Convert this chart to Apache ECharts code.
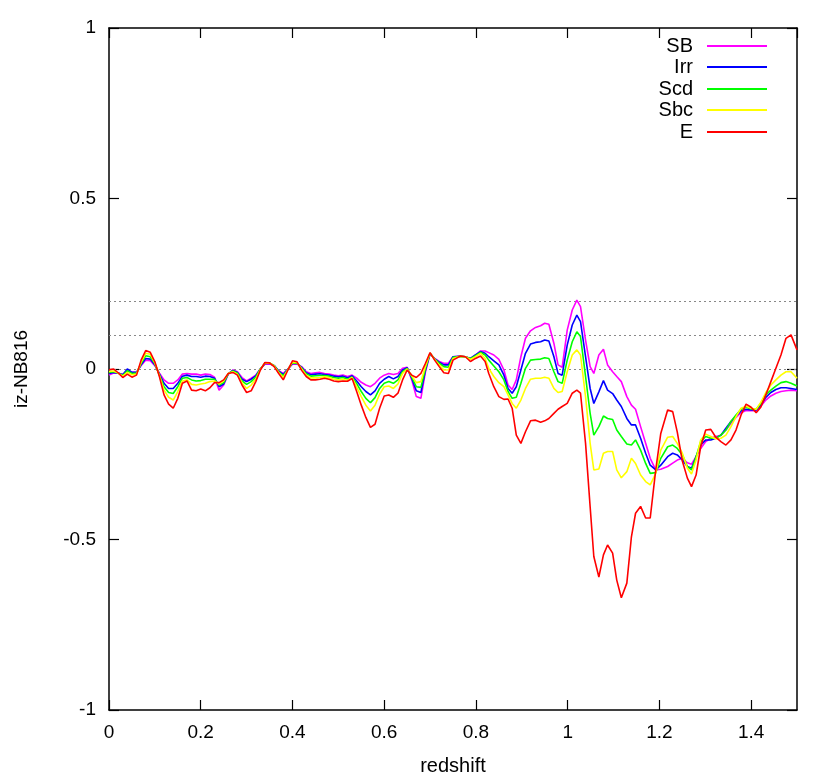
<!DOCTYPE html>
<html>
<head>
<meta charset="utf-8">
<script src="https://cdn.jsdelivr.net/npm/echarts@6/dist/echarts.min.js"></script>
<style>
  html, body { margin: 0; padding: 0; background: #fff; }
  #main { width: 830px; height: 775px; }
</style>
</head>
<body>
<div id="main"></div>
<script>
// redshift sampling
var redshift = [
  0.00, 0.01, 0.02, 0.03, 0.04, 0.05, 0.06, 0.07, 0.08, 0.09,
  0.10, 0.11, 0.12, 0.13, 0.14, 0.15, 0.16, 0.17, 0.18, 0.19,
  0.20, 0.21, 0.22, 0.23, 0.24, 0.25, 0.26, 0.27, 0.28, 0.29,
  0.30, 0.31, 0.32, 0.33, 0.34, 0.35, 0.36, 0.37, 0.38, 0.39,
  0.40, 0.41, 0.42, 0.43, 0.44, 0.45, 0.46, 0.47, 0.48, 0.49,
  0.50, 0.51, 0.52, 0.53, 0.54, 0.55, 0.56, 0.57, 0.58, 0.59,
  0.60, 0.61, 0.62, 0.63, 0.64, 0.65, 0.66, 0.67, 0.68, 0.69,
  0.70, 0.71, 0.72, 0.73, 0.74, 0.75,
  0.766, 0.777, 0.788, 0.799, 0.810, 0.820, 0.828, 0.839, 0.850, 0.861,
  0.870, 0.879, 0.888, 0.898, 0.908, 0.919, 0.930, 0.941, 0.950, 0.959,
  0.970, 0.979, 0.988,
  0.999, 1.010, 1.020, 1.028, 1.039, 1.049, 1.057, 1.068, 1.078, 1.087,
  1.098, 1.107, 1.117, 1.129, 1.139, 1.148, 1.159, 1.170, 1.180, 1.192,
  1.203, 1.218, 1.229, 1.239, 1.250, 1.261, 1.270, 1.280, 1.290, 1.301,
  1.312, 1.323, 1.334, 1.345, 1.356, 1.367, 1.378, 1.389, 1.400, 1.411,
  1.421, 1.432, 1.443, 1.454, 1.465, 1.476, 1.487, 1.500
];

var sb = [
  -0.018, -0.012, -0.012, -0.016, -0.005, -0.010, -0.010, 0.010, 0.026, 0.024,
  0.010, -0.012, -0.032, -0.042, -0.042, -0.032, -0.015, -0.013, -0.015, -0.015,
  -0.018, -0.015, -0.016, -0.024, -0.062, -0.047, -0.015, -0.003, -0.008, -0.025,
  -0.035, -0.027, -0.018, 0.000, 0.014, 0.015, 0.010, -0.005, -0.013, 0.000,
  0.014, 0.015, 0.007, -0.008, -0.013, -0.011, -0.010, -0.013, -0.015, -0.018,
  -0.020, -0.018, -0.022, -0.018, -0.027, -0.039, -0.047, -0.052, -0.042, -0.027,
  -0.018, -0.013, -0.016, -0.013, 0.002, 0.005, -0.032, -0.081, -0.086, -0.008,
  0.044, 0.031, 0.022, 0.017, 0.017, 0.036,
  0.038, 0.036, 0.031, 0.041, 0.053, 0.053, 0.048, 0.041, 0.028, -0.003,
  -0.047, -0.060, -0.032, 0.036, 0.090, 0.112, 0.122, 0.127, 0.134, 0.131,
  0.075, 0.012, 0.005,
  0.114, 0.173, 0.202, 0.183, 0.085, 0.007, -0.013, 0.041, 0.058, 0.012,
  -0.008, -0.022, -0.037, -0.081, -0.106, -0.118, -0.169, -0.218, -0.262, -0.296,
  -0.294, -0.286, -0.276, -0.267, -0.262, -0.275, -0.279, -0.257, -0.233, -0.213,
  -0.203, -0.198, -0.194, -0.179, -0.159, -0.142, -0.128, -0.122, -0.122, -0.122,
  -0.109, -0.091, -0.079, -0.071, -0.066, -0.064, -0.062, -0.064
];

var irr = [
  -0.013, -0.010, -0.012, -0.017, 0.000, -0.010, -0.010, 0.012, 0.031, 0.029,
  0.012, -0.015, -0.042, -0.057, -0.057, -0.042, -0.021, -0.018, -0.022, -0.022,
  -0.024, -0.021, -0.022, -0.027, -0.052, -0.044, -0.014, -0.004, -0.010, -0.030,
  -0.037, -0.030, -0.020, 0.000, 0.016, 0.017, 0.010, -0.006, -0.016, 0.000,
  0.016, 0.016, 0.005, -0.011, -0.017, -0.015, -0.014, -0.016, -0.018, -0.021,
  -0.023, -0.021, -0.026, -0.020, -0.035, -0.052, -0.066, -0.076, -0.064, -0.042,
  -0.030, -0.022, -0.029, -0.022, -0.003, 0.004, -0.027, -0.064, -0.069, -0.003,
  0.045, 0.030, 0.020, 0.012, 0.012, 0.036,
  0.037, 0.036, 0.031, 0.041, 0.051, 0.046, 0.036, 0.024, 0.012, -0.018,
  -0.057, -0.071, -0.052, -0.003, 0.046, 0.073, 0.078, 0.080, 0.085, 0.082,
  0.036, -0.013, -0.018,
  0.070, 0.129, 0.158, 0.139, 0.036, -0.057, -0.101, -0.067, -0.034, -0.062,
  -0.072, -0.091, -0.110, -0.145, -0.164, -0.164, -0.203, -0.247, -0.282, -0.296,
  -0.282, -0.257, -0.247, -0.252, -0.267, -0.286, -0.291, -0.257, -0.223, -0.208,
  -0.208, -0.203, -0.194, -0.174, -0.154, -0.138, -0.123, -0.118, -0.120, -0.120,
  -0.106, -0.083, -0.069, -0.060, -0.055, -0.055, -0.057, -0.060
];

var scd = [
  -0.010, -0.008, -0.012, -0.019, -0.005, -0.013, -0.012, 0.016, 0.039, 0.036,
  0.015, -0.018, -0.052, -0.069, -0.072, -0.052, -0.027, -0.025, -0.032, -0.035,
  -0.034, -0.030, -0.030, -0.030, -0.047, -0.040, -0.014, -0.006, -0.012, -0.035,
  -0.045, -0.037, -0.024, 0.000, 0.017, 0.018, 0.010, -0.008, -0.020, -0.001,
  0.018, 0.017, 0.003, -0.014, -0.021, -0.020, -0.019, -0.019, -0.021, -0.025,
  -0.027, -0.025, -0.030, -0.023, -0.043, -0.066, -0.086, -0.099, -0.084, -0.057,
  -0.042, -0.037, -0.042, -0.032, -0.008, 0.002, -0.023, -0.052, -0.054, 0.002,
  0.046, 0.029, 0.017, 0.007, 0.005, 0.034,
  0.037, 0.036, 0.030, 0.039, 0.049, 0.041, 0.026, 0.009, -0.008, -0.032,
  -0.066, -0.086, -0.083, -0.042, 0.002, 0.026, 0.028, 0.029, 0.033, 0.031,
  -0.008, -0.037, -0.042,
  0.026, 0.080, 0.109, 0.095, -0.022, -0.130, -0.194, -0.169, -0.138, -0.145,
  -0.148, -0.179, -0.198, -0.220, -0.223, -0.208, -0.238, -0.277, -0.306, -0.304,
  -0.262, -0.228, -0.223, -0.233, -0.252, -0.286, -0.296, -0.257, -0.213, -0.198,
  -0.203, -0.203, -0.194, -0.179, -0.154, -0.135, -0.118, -0.112, -0.117, -0.118,
  -0.101, -0.076, -0.062, -0.050, -0.040, -0.037, -0.042, -0.050
];

var sbc = [
  -0.007, -0.006, -0.012, -0.021, -0.010, -0.017, -0.015, 0.020, 0.046, 0.043,
  0.018, -0.020, -0.062, -0.083, -0.091, -0.066, -0.035, -0.032, -0.045, -0.047,
  -0.044, -0.042, -0.037, -0.035, -0.044, -0.035, -0.013, -0.008, -0.015, -0.040,
  -0.057, -0.047, -0.030, -0.001, 0.018, 0.018, 0.009, -0.010, -0.025, -0.002,
  0.020, 0.019, 0.000, -0.018, -0.026, -0.026, -0.025, -0.023, -0.025, -0.030,
  -0.032, -0.030, -0.033, -0.025, -0.053, -0.081, -0.106, -0.123, -0.106, -0.074,
  -0.052, -0.050, -0.057, -0.044, -0.013, 0.000, -0.020, -0.040, -0.037, 0.008,
  0.047, 0.028, 0.012, -0.003, -0.002, 0.031,
  0.037, 0.036, 0.028, 0.036, 0.046, 0.031, 0.002, -0.022, -0.040, -0.052,
  -0.076, -0.101, -0.115, -0.091, -0.057, -0.030, -0.027, -0.027, -0.024, -0.027,
  -0.057, -0.069, -0.066,
  -0.008, 0.041, 0.056, 0.041, -0.081, -0.218, -0.296, -0.293, -0.247, -0.242,
  -0.242, -0.296, -0.319, -0.301, -0.262, -0.277, -0.311, -0.330, -0.340, -0.306,
  -0.238, -0.200, -0.198, -0.218, -0.247, -0.291, -0.308, -0.267, -0.208, -0.191,
  -0.198, -0.205, -0.203, -0.194, -0.169, -0.140, -0.115, -0.109, -0.115, -0.118,
  -0.098, -0.069, -0.047, -0.032, -0.018, -0.008, -0.008, -0.027
];

var e = [
  -0.002, 0.000, -0.011, -0.025, -0.015, -0.024, -0.018, 0.026, 0.054, 0.049,
  0.021, -0.023, -0.076, -0.103, -0.115, -0.086, -0.042, -0.035, -0.062, -0.064,
  -0.059, -0.064, -0.055, -0.040, -0.040, -0.032, -0.013, -0.010, -0.018, -0.047,
  -0.069, -0.064, -0.037, -0.003, 0.019, 0.018, 0.007, -0.013, -0.032, -0.003,
  0.024, 0.021, -0.004, -0.022, -0.032, -0.032, -0.030, -0.027, -0.030, -0.035,
  -0.037, -0.035, -0.036, -0.028, -0.066, -0.106, -0.142, -0.171, -0.162, -0.115,
  -0.079, -0.076, -0.083, -0.071, -0.032, -0.003, -0.018, -0.025, -0.013, 0.017,
  0.048, 0.026, 0.007, -0.011, -0.013, 0.026,
  0.038, 0.036, 0.022, 0.031, 0.038, 0.022, -0.013, -0.052, -0.081, -0.089,
  -0.088, -0.115, -0.194, -0.218, -0.184, -0.152, -0.150, -0.156, -0.152, -0.145,
  -0.130, -0.118, -0.110,
  -0.101, -0.071, -0.062, -0.071, -0.218, -0.404, -0.550, -0.610, -0.545, -0.516,
  -0.540, -0.619, -0.671, -0.628, -0.492, -0.423, -0.403, -0.437, -0.437, -0.296,
  -0.189, -0.120, -0.125, -0.185, -0.270, -0.320, -0.345, -0.311, -0.228, -0.179,
  -0.177, -0.200, -0.213, -0.223, -0.208, -0.179, -0.135, -0.103, -0.112, -0.128,
  -0.112, -0.076, -0.037, 0.002, 0.041, 0.090, 0.100, 0.056
];

var names = ['SB', 'Irr', 'Scd', 'Sbc', 'E'];
var colors = ['#ff00ff', '#0000ff', '#00ff00', '#ffff00', '#ff0000'];
var values = [sb, irr, scd, sbc, e];
var guides = [0, 0.1, 0.2];

var font = 'Liberation Sans, Arial, Helvetica, sans-serif';
var chart = echarts.init(document.getElementById('main'));

function axisBase() {
  return {
    axisLine: { show: true, onZero: false, lineStyle: { color: '#000', width: 1.5 } },
    axisTick: { show: true, inside: true, length: 10, lineStyle: { color: '#000', width: 1.2 } },
    splitLine: { show: false },
    axisLabel: { color: '#000', fontFamily: font, fontSize: 19 }
  };
}

var xBottom = Object.assign(axisBase(), {
  type: 'value', min: 0, max: 1.5, interval: 0.2, position: 'bottom',
  name: 'redshift', nameLocation: 'middle', nameGap: 46,
  nameTextStyle: { color: '#000', fontFamily: font, fontSize: 20 }
});
xBottom.axisLabel.margin = 13;
xBottom.axisLabel.showMaxLabel = false;

var xTop = Object.assign(axisBase(), {
  type: 'value', min: 0, max: 1.5, interval: 0.2, position: 'top'
});
xTop.axisLabel = { show: false };

var yLeft = Object.assign(axisBase(), {
  type: 'value', min: -1, max: 1, interval: 0.5, position: 'left',
  name: 'iz-NB816', nameLocation: 'middle', nameGap: 78, nameRotate: 90,
  nameTextStyle: { color: '#000', fontFamily: font, fontSize: 19 }
});
yLeft.axisLabel.margin = 13;

var yRight = Object.assign(axisBase(), {
  type: 'value', min: -1, max: 1, interval: 0.5, position: 'right'
});
yRight.axisLabel = { show: false };

var legendTops = [31, 52, 74, 95, 117];

var option = {
  animation: false,
  backgroundColor: '#fff',
  grid: { left: 109, right: 33, top: 28, bottom: 65, outerBoundsMode: 'none', containLabel: false },
  xAxis: [xBottom, xTop],
  yAxis: [yLeft, yRight],
  legend: names.map(function (n, i) {
    return {
      data: [n],
      right: 58,
      top: legendTops[i],
      align: 'right',
      icon: 'rect',
      itemWidth: 60,
      itemHeight: 2,
      selectedMode: false,
      textStyle: {
        color: '#000', fontFamily: font, fontSize: 20, lineHeight: 20,
        padding: [0, 9, 0, 0]
      }
    };
  }),
  series: names.map(function (n, i) {
    var s = {
      name: n,
      type: 'line',
      color: colors[i],
      showSymbol: false,
      symbol: 'none',
      lineStyle: { color: colors[i], width: 1.6 },
      data: redshift.map(function (z, k) { return [z, values[i][k]]; }),
      z: 3 + i
    };
    if (i === 0) {
      s.markLine = {
        silent: true,
        symbol: 'none',
        label: { show: false },
        lineStyle: { color: '#888', type: [2, 3], width: 1 },
        data: guides.map(function (g) { return { yAxis: g }; }),
        z: 1
      };
    }
    return s;
  })
};

chart.setOption(option);
</script>
</body>
</html>
